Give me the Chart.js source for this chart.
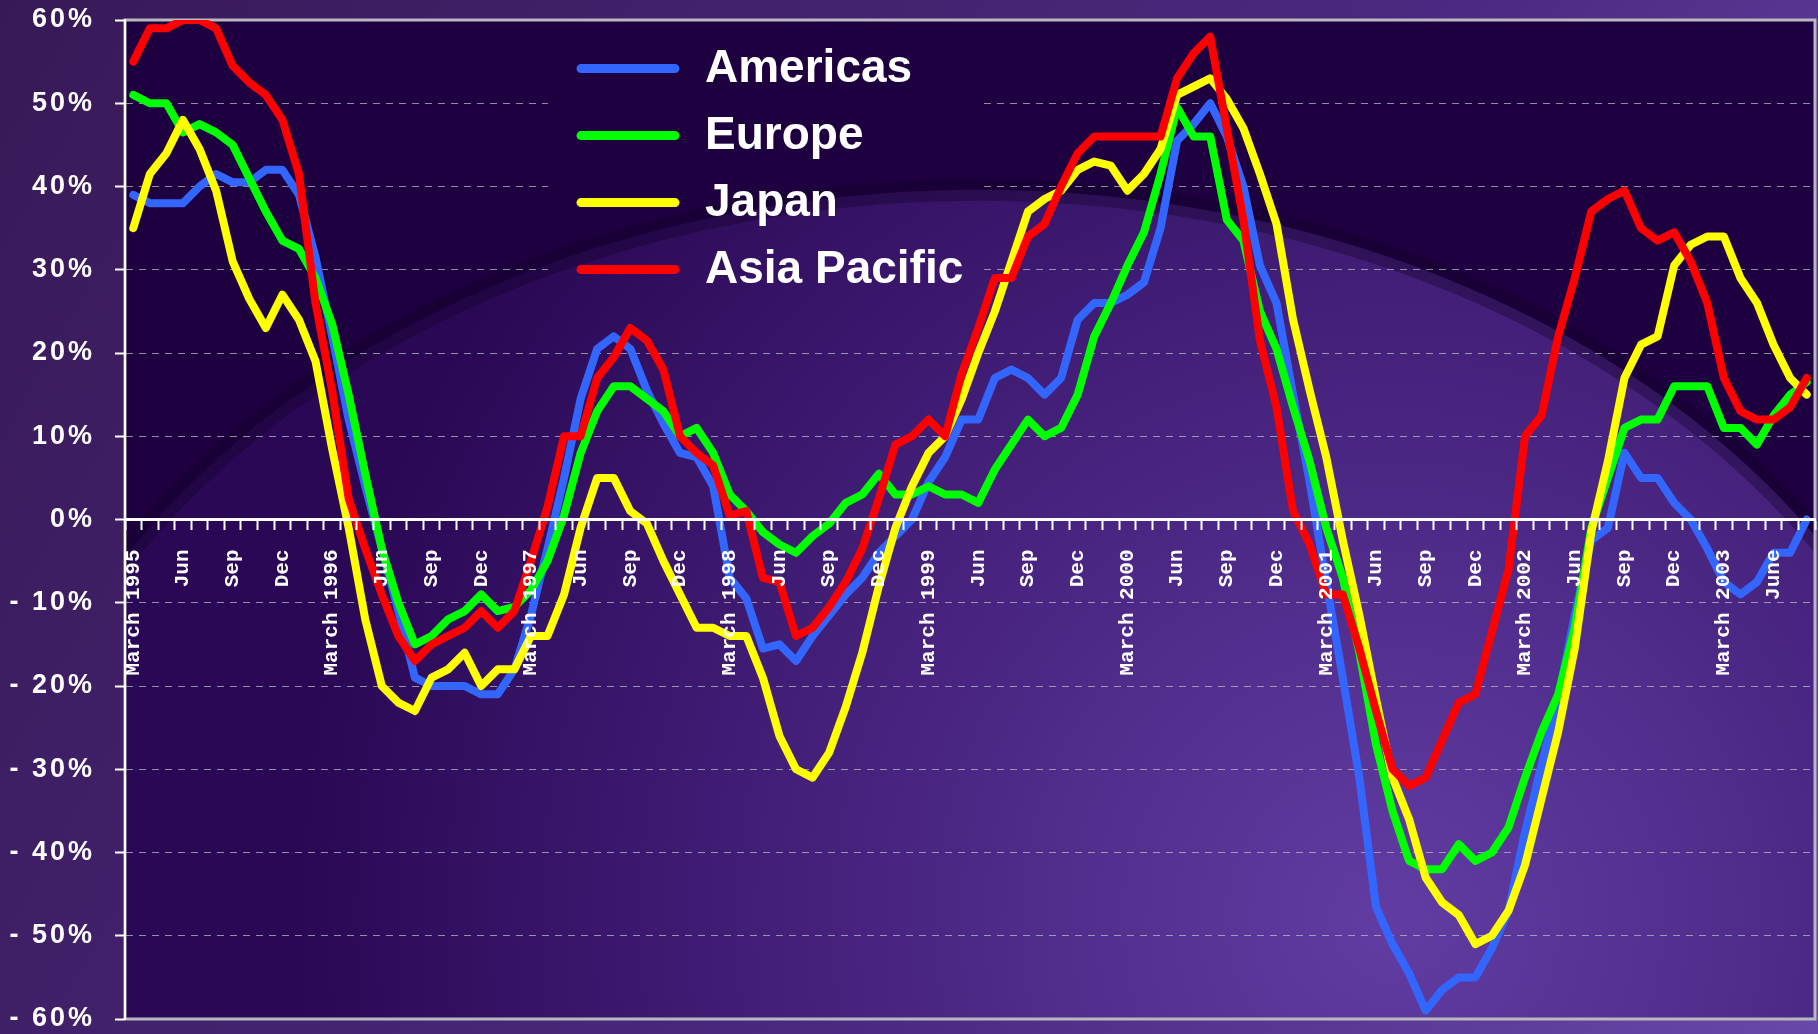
<!DOCTYPE html>
<html>
<head>
<meta charset="utf-8">
<script src="https://cdn.jsdelivr.net/npm/chart.js@4.4.1/dist/chart.umd.min.js"></script>
<style>
  html, body { margin: 0; padding: 0; background: #3a1a58; }
  #wrap { width: 1818px; height: 1034px; position: relative; }
</style>
</head>
<body>
<div id="wrap"><canvas id="chart"></canvas></div>
<script>
// monthly change, March 1995 .. August 2003 (one value per month)
const tickLabels = [
  'March 1995','','','Jun','','','Sep','','','Dec','','',
  'March 1996','','','Jun','','','Sep','','','Dec','','',
  'March 1997','','','Jun','','','Sep','','','Dec','','',
  'March 1998','','','Jun','','','Sep','','','Dec','','',
  'March 1999','','','Jun','','','Sep','','','Dec','','',
  'March 2000','','','Jun','','','Sep','','','Dec','','',
  'March 2001','','','Jun','','','Sep','','','Dec','','',
  'March 2002','','','Jun','','','Sep','','','Dec','','',
  'March 2003','','','June','',''
]

const americas = [
  39, 38, 38, 38, 40, 41.5, 40.5, 40.5, 42, 42, 39, 31.5,
  22, 12, 4, -3.5, -11, -19, -20, -20, -20, -21, -21, -18,
  -11.5, -3.5, 5, 14.5, 20.5, 22, 20.5, 15.5, 11.5, 8, 7.5, 4,
  -7, -9.5, -15.5, -15, -17, -14, -11.5, -9, -7, -4, -2, 0,
  4.5, 7.5, 12, 12, 17, 18, 17, 15, 17, 24, 26, 26,
  27, 28.5, 35, 45.5, 47.5, 50, 46, 40, 30.5, 26, 15, 4.5,
  -7.5, -19, -31, -46.5, -51, -54.5, -59, -56.5, -55, -55, -51.5, -47,
  -37.5, -29.5, -21.5, -11.5, -2.5, -1, 8, 5, 5, 2, 0, -3.5,
  -7.5, -9, -7.5, -4, -4, 0
]
const europe = [
  51, 50, 50, 46.5, 47.5, 46.5, 45, 41, 37, 33.5, 32.5, 29,
  23.5, 15, 5.5, -3.5, -10, -15, -14, -12, -11, -9, -11, -10.5,
  -8.5, -5, 0.5, 8, 13, 16, 16, 14.5, 13, 10, 11, 8,
  3, 1, -1.5, -3, -4, -2, -0.5, 2, 3, 5.5, 3, 3,
  4, 3, 3, 2, 6, 9, 12, 10, 11, 15, 22, 26,
  30.5, 34.5, 41.5, 49.5, 46, 46, 36, 33.5, 25, 20.5, 13.5, 7,
  -1, -7, -16, -27, -35, -41, -42, -42, -39, -41, -40, -37,
  -31, -25.5, -21, -13, -1, 5, 11, 12, 12, 16, 16, 16,
  11, 11, 9, 12.5, 15, 16.5
]
const japan = [
  35, 41.5, 44, 48, 44.5, 39.5, 31, 26.5, 23, 27, 24, 19,
  8.5, -1, -12, -20, -22, -23, -19, -18, -16, -20, -18, -18,
  -14, -14, -9, -1, 5, 5, 1, -0.5, -5, -9, -13, -13,
  -14, -14, -19, -26, -30, -31, -28, -22.5, -16, -8, -1, 4,
  8, 10, 14.5, 20, 25, 31, 37, 38.5, 39.5, 42, 43, 42.5,
  39.5, 41.5, 44.5, 51, 52, 53, 50.5, 47, 41.5, 35.5, 24, 15.5,
  7.5, -2.5, -11.5, -21.5, -31, -36, -43, -46, -47.5, -51, -50, -47,
  -41.5, -33.5, -25.5, -15.5, -1.5, 7, 17, 21, 22, 30.5, 33, 34,
  34, 29, 26, 21, 17, 15
]
const asiaPacific = [
  55, 59, 59, 60, 60, 59, 54.5, 52.5, 51, 48, 41.5, 26,
  15.5, 2.5, -3.5, -9, -14, -17, -15, -14, -13, -11, -13, -11,
  -5, 1.5, 10, 10, 17, 19.5, 23, 21.5, 18, 10, 8, 6.5,
  0.5, 1, -7, -7.5, -14, -13, -10.5, -7.5, -3.5, 2.5, 9, 10,
  12, 10, 17.5, 23, 29, 29, 34, 35.5, 40, 44, 46, 46,
  46, 46, 46, 53, 56, 58, 47, 36, 21.5, 13.5, 1, -3,
  -9, -9, -15.5, -23, -30, -32, -31, -26.5, -22, -21, -13.5, -6,
  10, 12.5, 22, 29, 37, 38.5, 39.5, 35, 33.5, 34.5, 31, 26,
  17, 13, 12, 12, 13.5, 17
]

const seriesNames = ['Americas', 'Europe', 'Japan', 'Asia Pacific']
const seriesColors = ['#3366ff', '#00ff00', '#ffff00', '#ff0000']
const seriesValues = [americas, europe, japan, asiaPacific]

// plot background: dark sky with a lighter globe
function paintPlot(ctx, a){
    const w = a.right - a.left, h = a.bottom - a.top
    ctx.save()
    ctx.beginPath()
    ctx.rect(a.left, a.top, w, h)
    ctx.clip()
    ctx.fillStyle = '#1e0040'
    ctx.fillRect(a.left, a.top, w, h)
    const cx = a.left + 0.505 * w, cy = a.top + 0.93 * h
    const rg = ctx.createRadialGradient(a.left + 0.75 * w, a.top + 0.9 * h, 20, a.left + 0.75 * w, a.top + 0.9 * h, 1.1 * h)
    rg.addColorStop(0, '#603ca2')
    rg.addColorStop(0.5, '#46227d')
    rg.addColorStop(1, '#2a0855')
    ctx.beginPath()
    ctx.ellipse(cx, cy, 0.59 * w, 0.76 * h, 0, 0, Math.PI * 2)
    ctx.fillStyle = rg
    ctx.fill()
    ctx.strokeStyle = 'rgba(16,0,36,0.35)'
    ctx.lineWidth = 22
    ctx.stroke()
    ctx.restore()
}

const legendBox = {x: 548, y: 26, w: 436, h: 280, lineX1: 581, lineX2: 675, textX: 705, rowY: 68.6, rowGap: 67}

const backdrop = {
    id: 'backdrop',
    beforeDraw(chart){
        const ctx = chart.ctx
        const g = ctx.createLinearGradient(0, 0, chart.width, chart.height)
        g.addColorStop(0, '#381957')
        g.addColorStop(0.6, '#4a2a80')
        g.addColorStop(1, '#6848a8')
        ctx.save()
        ctx.fillStyle = g
        ctx.fillRect(0, 0, chart.width, chart.height)
        ctx.restore()
        const a = chart.chartArea
        paintPlot(ctx, a)
        ctx.save()
        ctx.strokeStyle = '#b8b8c0'
        ctx.lineWidth = 3
        ctx.strokeRect(a.left, a.top, a.right - a.left, a.bottom - a.top)
        ctx.restore()
        ctx.letterSpacing = '3px'
    },
    beforeDatasetsDraw(chart){
        const ctx = chart.ctx
        ctx.letterSpacing = '0px'
        // legend box hides the grid lines behind it
        ctx.save()
        ctx.beginPath()
        ctx.rect(legendBox.x, legendBox.y, legendBox.w, legendBox.h)
        ctx.clip()
        paintPlot(ctx, chart.chartArea)
        ctx.restore()
    },
    afterDatasetsDraw(chart){
        const ctx = chart.ctx
        ctx.save()
        chart.data.datasets.forEach((ds, i) => {
            const y = legendBox.rowY + i * legendBox.rowGap
            ctx.strokeStyle = ds.borderColor
            ctx.lineWidth = 9
            ctx.lineCap = 'round'
            ctx.beginPath()
            ctx.moveTo(legendBox.lineX1, y)
            ctx.lineTo(legendBox.lineX2, y)
            ctx.stroke()
            ctx.fillStyle = '#ffffff'
            ctx.font = 'bold 46px "Liberation Sans", Arial, sans-serif'
            ctx.textBaseline = 'middle'
            ctx.fillText(ds.label, legendBox.textX, y + 1)
        })
        ctx.restore()
    }
}

new Chart(document.getElementById('chart'), {
    type: 'line',
    data: {
        labels: tickLabels,
        datasets: seriesNames.map((name, i) => ({
            label: name,
            data: seriesValues[i],
            borderColor: seriesColors[i],
            backgroundColor: seriesColors[i],
            borderWidth: 8,
            borderJoinStyle: 'round',
            borderCapStyle: 'round',
            pointRadius: 0,
            tension: 0,
            fill: false,
            order: seriesNames.length - i
        }))
    },
    options: {
        responsive: true,
        maintainAspectRatio: false,
        animation: false,
        layout: {padding: {top: 20, right: 3, bottom: 15, left: 0}},
        scales: {
            x: {
                position: {y: 0},
                offset: true,
                afterFit: s => { s.paddingLeft = 0; s.paddingRight = 0; s.paddingTop = 0; s.paddingBottom = 0 },
                grid: {
                    offset: true,
                    drawOnChartArea: false,
                    drawTicks: true,
                    tickLength: 9,
                    tickColor: '#ffffff',
                    tickWidth: 2,
                    z: 1
                },
                border: {color: '#ffffff', width: 3, z: 1},
                ticks: {
                    autoSkip: false,
                    maxRotation: 90,
                    minRotation: 90,
                    padding: 21,
                    color: '#ffffff',
                    font: {family: '"Liberation Mono", "Courier New", monospace', size: 21, weight: 'bold'},
                    z: 1
                }
            },
            y: {
                min: -60,
                max: 60,
                afterFit: s => { s.width = 125; s.paddingTop = 0; s.paddingBottom = 0 },
                grid: {
                    color: 'rgba(185,185,195,0.75)',
                    lineWidth: 1,
                    tickColor: '#ffffff',
                    tickLength: 10,
                    tickWidth: 2
                },
                border: {color: '#ffffff', width: 2, dash: [7, 6]},
                ticks: {
                    stepSize: 10,
                    padding: 20,
                    color: '#ffffff',
                    font: {family: '"Liberation Sans", Arial, sans-serif', size: 27, weight: 'bold'},
                    callback: v => v < 0 ? `- ${Math.abs(v)}%` : `${v}%`
                }
            }
        },
        plugins: {
            legend: {display: false},
            tooltip: {enabled: false}
        }
    },
    plugins: [backdrop]
})
</script>
</body>
</html>
